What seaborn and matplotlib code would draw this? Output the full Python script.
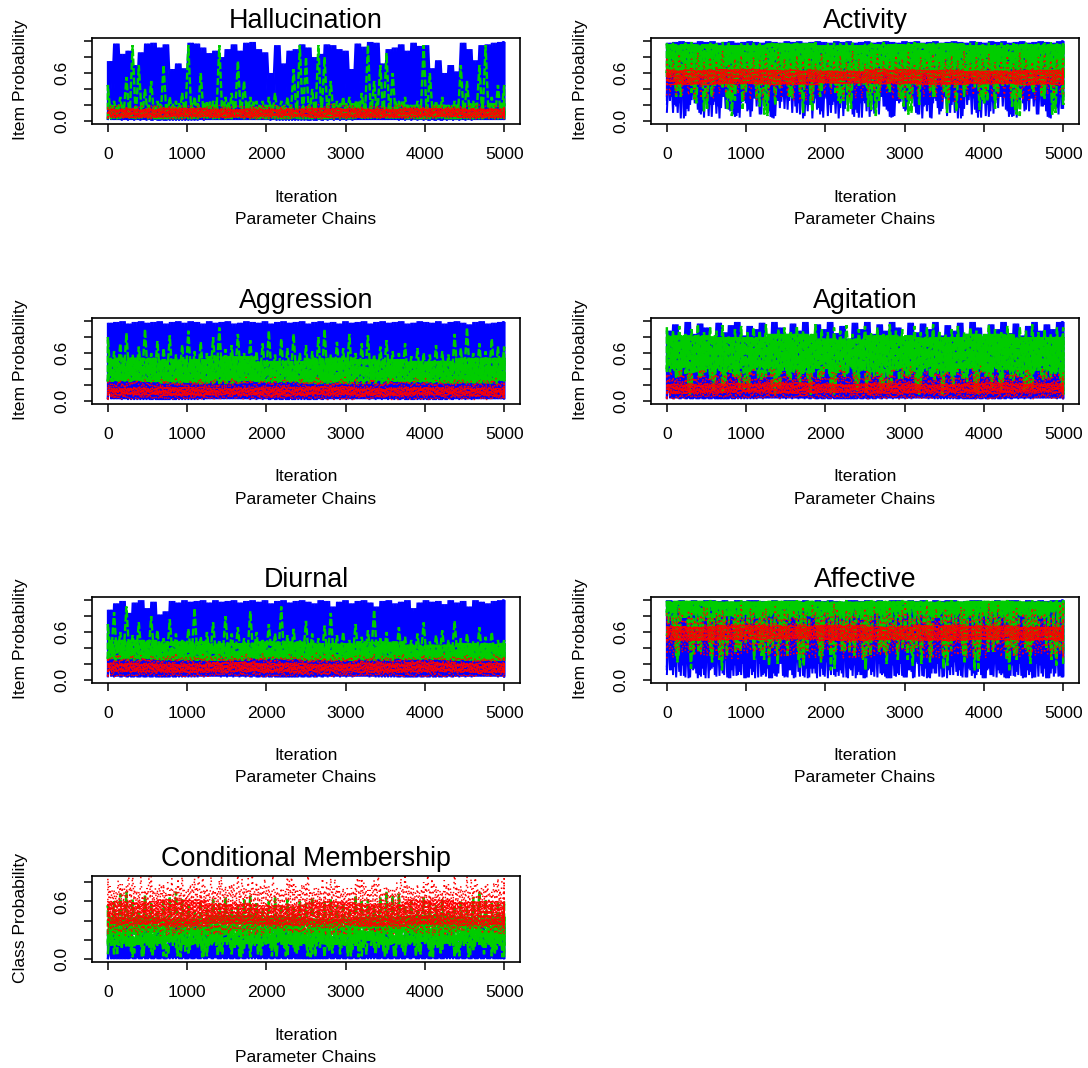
import numpy as np
import matplotlib
matplotlib.use("Agg")
import matplotlib.pyplot as plt
import seaborn as sns

TITLES = ["Hallucination", "Activity", "Aggression", "Agitation", "Diurnal", "Affective", "Conditional Membership"]

# Envelopes (values x 100), left to right over iterations 1-5000.
hal_b_hi = [75,97,84,88,70,86,97,98,92,96,65,72,66,98,97,92,85,88,80,90,96,88,98,99,90,86,60,95,72,88,90,96,
            92,80,84,96,95,90,88,65,97,93,99,98,72,90,92,96,88,98,94,95,66,76,60,70,62,98,90,76,95,96,98,99]
hal_b_lo = [1,0,1,1,0,1,1,1]
hal_g_hi = [45,25,30,55,95,70,40,50,25,70,30,25,35,95,30,60,25,25,95,30,35,75,50,30,25,25,30,35,25,30,65,95,
            80,40,95,80,50,25,30,30,25,35,95,50,70,85,60,25,30,20,25,95,60,25,30,20,25,70,50,25,70,95,30,45]
hal_g_mid = [20,22,24,20,22,24,20,22]
hal_g_lo = [2,2,3,2,2,3,2,2]
hal_r_core_lo = [4,5,4,5,4,4,5,4]
hal_r_core_hi = [15,16,15,15,16,15,16,15]
hal_r_hi = [17,18,20,19,18,19,17,20,18,17,19,18,20,19,17,18,19,18,20,17,18,19,18,17,19,21,18,20,19,18,17,19,
            20,18,21,19,22,18,19,20,18,19,17,18,19,18,17,20,19,18,17,19,18,20,19,17,18,20,19,18,21,19,18,19]
hal_r_lo = [3,2,3,3,2,3,3,2]

act_b_hi = [98,99,100,99,98,100,99,100,98,99,100,98,99,100,99,98,100,99,98,100,99,100,98,99,100,99,98,100,99,100,98,99,
            100,98,99,100,99,98,100,99,100,98,99,100,98,99,100,99,98,100,99,98,100,99,100,98,99,100,98,99,100,99,98,100]
act_b_lo = [25,18,30,12,22,8,28,20,3,15,32,10,25,5,18,30,12,6,24,14,28,8,20,3,16,30,10,22,6,26,14,4,
            20,9,30,14,5,22,12,28,8,18,4,25,15,30,10,3,20,28,12,6,24,16,30,8,4,22,12,26,18,5,25,30]
act_g_hi = [97,98,96,98,99,97,96,98,97,99,98,96,97,98,99,97,96,98,97,99,96,98,97,98,99,96,97,98,97,99,98,96,
            97,98,96,99,97,98,96,98,99,97,96,98,97,99,98,96,97,98,99,96,98,97,98,96,99,97,98,96,97,98,99,97]
act_g_mid = [96,95,97,95,96,97,95,96]
act_g_lo = [55,30,60,48,25,58,15,50,45,60,6,52,40,58,28,55,50,20,60,46,55,35,58,12,52,60,42,55,25,58,48,60,
            18,55,44,60,50,30,58,10,52,60,38,55,48,22,60,50,44,58,14,55,60,36,50,58,8,52,46,60,30,55,50,58]
act_r_core_lo = [45,46,45,47,46,45,46,45]
act_r_core_hi = [64,65,64,63,65,64,63,64]
act_r_hi = [80,76,84,72,78,86,74,80,76,88,72,78,82,74,80,76,84,72,86,78,74,82,76,80,72,84,78,76,82,74,88,78,
            72,80,84,76,74,82,78,86,72,80,76,84,74,78,82,76,88,72,80,78,84,74,76,82,72,86,78,74,80,84,76,78]
act_r_lo = [32,28,34,26,30,25,33,28,35,27,30,24,32,29,26,33]

agg_b_hi = [98,99,100,97,99,100,98,99,100,97,99,100,98,100,99,97,100,98,99,100,97,98,100,99,98,100,97,99,100,98,99,100,
            97,99,100,98,99,97,100,98,99,100,97,99,100,98,99,100,97,98,100,99,98,100,97,99,100,98,96,99,100,97,98,99]
agg_b_lo = [2,1,2,2,1,2,1,2]
agg_g_hi = [80,62,72,85,58,68,90,60,75,66,82,58,70,88,62,74,60,80,92,65,70,84,60,76,62,72,88,58,78,66,84,60,
            70,62,80,90,58,74,66,84,60,72,82,58,68,76,62,60,72,56,66,60,58,70,62,58,84,66,92,60,72,62,78,68]
agg_g_mid = [54,52,56,50,54,52,50,54]
agg_g_lo = [24,22,25,23,21,24,22,25]
agg_r_core_lo = [7,6,7,6,7,6,7,6]
agg_r_core_hi = [16,17,16,17,18,16,17,16]
agg_r_hi = [24,22,27,23,25,22,28,24,22,26,23,30,24,22,25,28,23,26,22,24,29,23,25,27,22,24,26,30,23,25,22,27,
            24,23,28,22,25,24,26,22,29,24,23,26,22,25,28,23,24,22,27,25,23,26,22,24,28,23,25,22,26,24,27,23]
agg_r_lo = [3,2,3,2,1,3,2,3]

agi_b_hi = [88,96,78,99,84,97,92,80,98,86,95,99,82,94,90,98,78,99,92,84,97,88,99,80,96,90,99,85,94,78,98,90,
            99,84,96,88,99,92,80,98,86,97,90,99,82,95,88,98,84,99,92,78,96,90,99,85,97,82,94,99,88,96,90,99]
agi_b_lo = [3,2,3,2,2,3,2,3]
agi_g_hi = [92,88,94,84,90,96,86,92,88,95,82,90,94,86,92,88,96,84,90,92,86,94,88,82,96,90,86,92,88,95,84,90,
            94,86,92,84,96,88,90,82,94,86,92,96,88,84,90,94,86,92,88,82,95,90,86,94,84,92,88,96,86,90,84,92]
agi_g_mid = [82,80,84,78,82,80,84,80]
agi_g_lo = [36,28,40,18,35,30,42,12,38,25,40,32,15,38,42,28,36,8,40,30,34,20,42,35,28,40,10,36,32,42,22,38,
            40,30,14,36,42,26,38,34,18,40,30,42,8,36,32,40,24,38,42,30,16,36,40,28,34,42,20,38,30,40,35,28]
agi_r_core_lo = [9,10,9,10,9,10,9,10]
agi_r_core_hi = [21,22,23,21,22,21,23,22]
agi_r_hi = [34,30,38,28,36,32,40,30,34,28,38,32,36,30,42,28,34,38,30,36,28,40,32,34,30,38,28,36,44,30,34,28,
            36,32,38,30,34,28,42,32,36,30,38,28,34,36,30,40,28,34,38,30,36,32,28,38,34,30,40,28,36,32,34,30]
agi_r_lo = [4,3,4,3,2,4,3,4]

diu_b_hi = [88,96,99,84,97,100,90,98,82,86,99,97,100,98,99,100,97,100,98,99,100,97,99,100,98,100,96,99,100,97,99,100,
            98,96,100,99,92,98,100,96,99,100,97,92,99,100,96,98,100,90,97,100,98,99,95,100,97,99,92,100,98,96,99,100]
diu_b_lo = [4,3,4,3,3,4,3,4]
diu_g_hi = [70,85,60,92,56,72,48,80,62,52,76,58,50,64,90,54,60,72,50,80,58,66,52,86,60,50,70,58,92,56,64,50,
            74,58,52,68,84,56,60,50,70,54,62,88,52,60,48,66,54,50,58,72,48,56,62,50,74,52,58,48,66,54,60,50]
diu_g_mid = [50,48,46,48,46,48,44,46]
diu_g_lo = [26,24,27,25,24,26,25,24]
diu_r_core_lo = [10,9,10,9,10,9,10,9]
diu_r_core_hi = [21,20,22,21,20,21,22,21]
diu_r_hi = [28,26,30,27,32,26,28,30,26,29,27,34,28,26,30,27,29,26,32,28,30,26,27,29,26,34,28,27,30,26,29,28,
            26,30,27,32,28,26,29,27,30,26,28,33,27,29,26,30,28,27,26,32,29,27,30,26,28,27,31,26,29,28,27,30]
diu_r_lo = [5,4,5,4,4,5,4,5]

aff_b_hi = [100,99,100,98,100,99,100,100,99,100,98,100,99,100,100,99,98,100,99,100,100,99,100,98,100,99,100,99,98,100,100,99,
            100,99,100,98,100,100,99,100,99,100,98,100,99,100,100,98,99,100,100,99,98,100,99,100,100,98,100,99,100,99,100,100]
aff_b_lo = [12,3,18,2,14,4,22,16,5,24,12,6,2,14,28,6,2,5,20,3,2,4,14,8,20,4,6,10,3,14,2,6,
            12,4,8,2,18,6,3,10,20,4,2,8,3,12,22,5,3,8,14,2,6,12,3,5,10,2,6,3,8,2,4,5]
aff_g_hi = [99,98,99,100,98,99,98,100,99,98,99,98,100,99,98,99,100,98,99,98,99,100,98,99,98,99,100,98,99,100,98,99,
            98,100,99,98,99,98,100,99,98,99,100,98,99,98,100,99,98,99,98,100,99,98,99,100,98,99,98,100,99,98,99,100]
aff_g_mid = [99,98,99,98,99,98,99,98]
aff_g_lo = [80,30,84,60,82,35,78,84,25,80,85,40,82,50,80,85,18,82,84,30,80,14,84,78,45,82,12,80,85,35,82,78,
            40,84,80,20,85,78,82,32,80,85,22,78,84,80,50,82,78,85,30,80,84,46,82,78,25,85,80,55,84,78,82,36]
aff_r_core_lo = [49,50,51,49,50,49,50,49]
aff_r_core_hi = [67,69,68,69,67,69,68,67]
aff_r_hi = [84,78,90,76,86,80,92,78,84,88,76,82,94,78,86,80,90,76,84,88,78,82,92,76,86,80,84,96,78,88,82,76,
            90,80,84,78,92,76,88,82,78,86,94,80,76,90,84,78,88,82,76,86,96,80,78,84,88,76,82,90,78,84,80,76]
aff_r_lo = [34,30,26,36,28,32,38,26,30,35,28,33,27,36,30,32]

con_b_hi = [30,34,26,34,22,30,34,20,32,14,32,34,28,18,34,30,36,22,30,34,16,32,34,24,30,34,20,36,32,26,34,30,
            18,34,30,36,24,32,16,34,30,28,20,34,36,32,24,20,30,34,22,36,30,32,26,34,18,30,36,22,34,30,32,34]
con_b_lo = [0,0,1,0,0,0,1,0]
con_g_hi = [56,60,68,70,62,56,66,58,50,60,64,70,62,56,50,60,54,62,58,64,52,56,62,66,58,52,60,64,56,62,54,60,
            58,64,52,60,62,56,58,52,66,60,62,56,64,70,66,68,56,60,52,64,58,56,62,50,56,60,54,64,70,62,58,60]
con_g_mid = [44,42,46,44,42,44,46,44]
con_g_lo = [14,4,16,12,18,3,15,10,16,2,14,18,8,15,12,3,16,14,5,18,12,2,15,16,8,14,3,18,12,15,6,16,
            14,3,16,12,18,5,15,10,2,16,14,18,8,15,3,12,16,14,5,18,2,12,15,16,8,14,3,18,12,15,6,16]
con_r_core_lo = [36,34,37,35,36,34,36,35]
con_r_core_hi = [60,62,58,56,60,58,62,60]
con_r_hi = [84,72,78,76,88,70,72,86,72,78,72,74,88,74,84,70,74,72,82,76,78,90,74,72,80,74,76,70,74,88,80,72,
            78,70,74,72,84,78,74,70,78,84,72,82,74,76,72,70,88,74,78,80,72,76,70,78,92,76,86,74,72,78,70,84]
con_r_lo = [30,28,24,32,26,30,34,28,32,26,30,34,28,24,30,26]

PANELS = [
    (hal_b_hi, hal_b_lo, hal_g_hi, hal_g_mid, hal_g_lo, hal_r_core_lo, hal_r_core_hi, hal_r_hi, hal_r_lo),
    (act_b_hi, act_b_lo, act_g_hi, act_g_mid, act_g_lo, act_r_core_lo, act_r_core_hi, act_r_hi, act_r_lo),
    (agg_b_hi, agg_b_lo, agg_g_hi, agg_g_mid, agg_g_lo, agg_r_core_lo, agg_r_core_hi, agg_r_hi, agg_r_lo),
    (agi_b_hi, agi_b_lo, agi_g_hi, agi_g_mid, agi_g_lo, agi_r_core_lo, agi_r_core_hi, agi_r_hi, agi_r_lo),
    (diu_b_hi, diu_b_lo, diu_g_hi, diu_g_mid, diu_g_lo, diu_r_core_lo, diu_r_core_hi, diu_r_hi, diu_r_lo),
    (aff_b_hi, aff_b_lo, aff_g_hi, aff_g_mid, aff_g_lo, aff_r_core_lo, aff_r_core_hi, aff_r_hi, aff_r_lo),
    (con_b_hi, con_b_lo, con_g_hi, con_g_mid, con_g_lo, con_r_core_lo, con_r_core_hi, con_r_hi, con_r_lo),
]
GREEN_PASSES = [2, 4, 4, 4, 4, 5, 4]
RED_CORE_PASSES = [7, 7, 6, 6, 6, 7, 5]
RED_WIDE_PASSES = [2, 1, 3, 3, 3, 2, 3]
X_TICKS = [0, 1000, 2000, 3000, 4000, 5000]

sns.set_theme(style="white")
plt.rcParams["font.family"] = ["Liberation Sans", "DejaVu Sans"]
plt.rcParams["lines.scale_dashes"] = False
plt.rcParams["path.simplify"] = False
W, H = 1088, 1068
PX = 72 / 100  # points per pixel at dpi 100
fig = plt.figure(figsize=(W / 100, H / 100), dpi=100)

LEFTS = [92, 651]
TOPS = [38, 318, 597, 876]
BOX_W, BOX_H = 428, 86
BLUE, GREEN, RED = "#0000FF", "#00CD00", "#FF0000"


def trace(lo, hi, phase=0.0, roll_lo=0, roll_hi=0):
    """Saw-tooth chain path: each knot goes up to its high value, then down to its low value."""
    n = 64
    lo = np.roll(np.repeat(np.asarray(lo, float), n // len(lo)), roll_lo) / 100
    hi = np.roll(np.repeat(np.asarray(hi, float), n // len(hi)), roll_hi) / 100
    step = 5000 / n
    xs = (np.arange(n) + phase) * step
    x = np.column_stack([xs, xs + step / 2]).ravel()
    y = np.column_stack([hi, lo]).ravel()
    keep = x <= 5000
    x = np.r_[0, x[keep], 5000, 5000]
    y = np.r_[lo[0], y[keep], hi[-1], lo[-1]]
    return x, y


def draw(ax, x, y, color, lw_px, dash=None):
    n0 = len(ax.lines)
    sns.lineplot(x=x, y=y, sort=False, estimator=None, color=color, linewidth=lw_px * PX, ax=ax, legend=False)
    line = ax.lines[n0]
    if dash is None:
        line.set_solid_joinstyle("bevel")
        line.set_solid_capstyle("butt")
    else:
        line.set_linestyle((0, tuple(d * PX for d in dash)))
        line.set_dash_capstyle("butt")
        line.set_dash_joinstyle("bevel")


for i, title in enumerate(TITLES):
    row, col = i // 2, i % 2
    left, top = LEFTS[col], TOPS[row]
    ax = fig.add_axes([left / W, 1 - (top + BOX_H) / H, BOX_W / W, BOX_H / H])
    b_hi, b_lo, g_hi, g_mid, g_lo, core_lo, core_hi, r_hi, r_lo = PANELS[i]

    for k, p in enumerate((0.0, 0.25, 0.5, 0.75)):
        x, y = trace(b_lo, b_hi, p, roll_lo=k * 19)
        draw(ax, x, y, BLUE, 2.0)

    x, y = trace(g_lo, g_hi, 0.0)
    draw(ax, x, y, GREEN, 2.4, dash=(7, 2.5))
    for k in range(1, GREEN_PASSES[i]):
        x, y = trace(g_lo, g_mid, k / GREEN_PASSES[i], roll_lo=k * 23)
        draw(ax, x, y, GREEN, 2.4, dash=(7 + k, 2.5))

    # dense red band, then the wider scatter of dots around it
    m = RED_CORE_PASSES[i]
    for k in range(m):
        x, y = trace(core_lo, core_hi, k / m)
        draw(ax, x, y, RED, 1.5, dash=(1.5, 2.2 + (k % 3) * 0.6))
    m = RED_WIDE_PASSES[i]
    for k in range(m):
        x, y = trace(r_lo, r_hi, k / m, roll_lo=k * 13, roll_hi=k * 11)
        draw(ax, x, y, RED, 1.5, dash=(1.5, 3.5 + k * 0.7))

    ax.set_xlim(-200, 5200)
    if i == 6:
        ax.set_ylim(-0.03, 0.865)
        yticks = [0, 0.2, 0.4, 0.6, 0.8]
        ylabel = "Class Probability"
    else:
        ax.set_ylim(-0.04, 1.04)
        yticks = [0, 0.2, 0.4, 0.6, 0.8, 1.0]
        ylabel = "Item Probability"
    ax.set_xticks(X_TICKS)
    ax.set_xticklabels([str(t) for t in X_TICKS], fontsize=12.6, color="black")
    ax.set_yticks(yticks)
    ax.set_yticklabels(["0.0" if t == 0 else "0.6" if t == 0.6 else "" for t in yticks],
                       fontsize=12.6, rotation=90, va="center", color="black")
    ax.tick_params(axis="both", length=6, width=1.1, color="black", left=True, bottom=True)
    ax.tick_params(axis="x", pad=10.5)
    ax.tick_params(axis="y", pad=10.5)
    for sp in ax.spines.values():
        sp.set_visible(True)
        sp.set_color("black")
        sp.set_linewidth(1.2)
    ax.set_xlabel("")
    ax.set_ylabel("")
    cx = (left + BOX_W / 2) / W
    fig.text(cx, 1 - (top - 17) / H, title, fontsize=19.4, ha="center", va="center", color="black")
    fig.text(cx, 1 - (top + 159) / H, "Iteration", fontsize=12.6, ha="center", va="center", color="black")
    fig.text(cx, 1 - (top + 181) / H, "Parameter Chains", fontsize=12.6, ha="center", va="center", color="black")
    fig.text((left - 71) / W, 1 - (top + 42) / H, ylabel, fontsize=12.6, rotation=90,
             ha="center", va="center", color="black")

fig.savefig("out.png", dpi=100, facecolor="white")
